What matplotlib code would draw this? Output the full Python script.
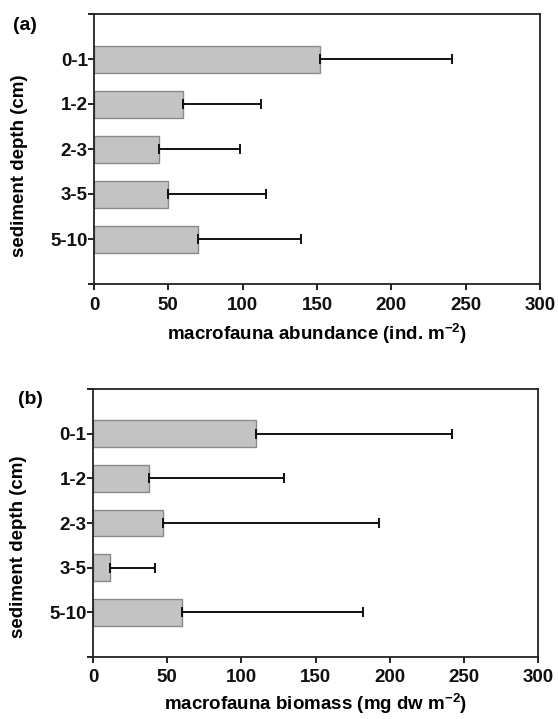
import matplotlib
matplotlib.use("Agg")
import matplotlib.pyplot as plt
import numpy as np

plt.rcParams['font.family'] = ['Liberation Sans', 'DejaVu Sans']
plt.rcParams['font.weight'] = 'bold'
plt.rcParams['mathtext.fontset'] = 'custom'
plt.rcParams['mathtext.rm'] = 'Liberation Sans:bold'
plt.rcParams['mathtext.bf'] = 'Liberation Sans:bold'
plt.rcParams['mathtext.default'] = 'bf'

depths = ["0-1", "1-2", "2-3", "3-5", "5-10"]
abundance = [152, 60, 44, 50, 70]
abundance_err = [89, 52, 54, 66, 69]
biomass = [110, 38, 47.5, 11.5, 60]
biomass_err = [132, 91, 145.5, 30, 122]

fig = plt.figure(figsize=(5.58, 7.19), dpi=100)
W, H = 558, 719

def make_ax(left, top, right, bottom):
    return fig.add_axes([left / W, 1 - bottom / H, (right - left) / W, (bottom - top) / H])

axa = make_ax(94, 14, 540, 284)
axb = make_ax(93, 389, 538, 657)

pos = np.arange(1, len(depths) + 1)
FS = 13.5

panels = [
    (axa, abundance, abundance_err, "macrofauna abundance (ind. m$^{-2}$)", "(a)", (13, 26), -0.14, 0.437),
    (axb, biomass, biomass_err, "macrofauna biomass (mg dw m$^{-2}$)", "(b)", (18, 400), -0.13, 0.41),
]

for ax, vals, errs, xlabel, lab, labxy, xly, yly in panels:
    ax.barh(pos, vals, height=0.6, color="#c3c3c3", edgecolor="#8a8a8a", linewidth=1.0, zorder=2)
    ax.errorbar(vals, pos, xerr=[np.zeros(len(vals)), errs], fmt="none", ecolor="#111111",
                elinewidth=1.4, capsize=3.5, capthick=1.4, zorder=3)
    ax.set_xlim(0, 300)
    ax.set_ylim(6, 0)
    ax.set_yticks(np.arange(0, 7))
    ax.set_yticklabels([""] + depths + [""])
    ax.set_xticks(np.arange(0, 301, 50))
    ax.tick_params(axis="both", direction="out", length=4, width=1.3, labelsize=FS, colors="#111111")
    ax.tick_params(axis="y", pad=0.5)
    ax.tick_params(axis="x", pad=5)
    for lbl in ax.get_xticklabels() + ax.get_yticklabels():
        lbl.set_fontweight("bold")
    for s in ax.spines.values():
        s.set_linewidth(1.3)
        s.set_color("#222222")
    ax.set_xlabel(xlabel, fontsize=FS, fontweight="bold")
    ax.xaxis.set_label_coords(0.5, xly)
    ax.set_ylabel("sediment depth (cm)", fontsize=FS, fontweight="bold")
    ax.yaxis.set_label_coords(-0.148, yly)
    fig.text(labxy[0] / W, 1 - labxy[1] / H, lab, fontsize=14, fontweight="bold", va="center", ha="left")

fig.savefig("out.png", dpi=100)
